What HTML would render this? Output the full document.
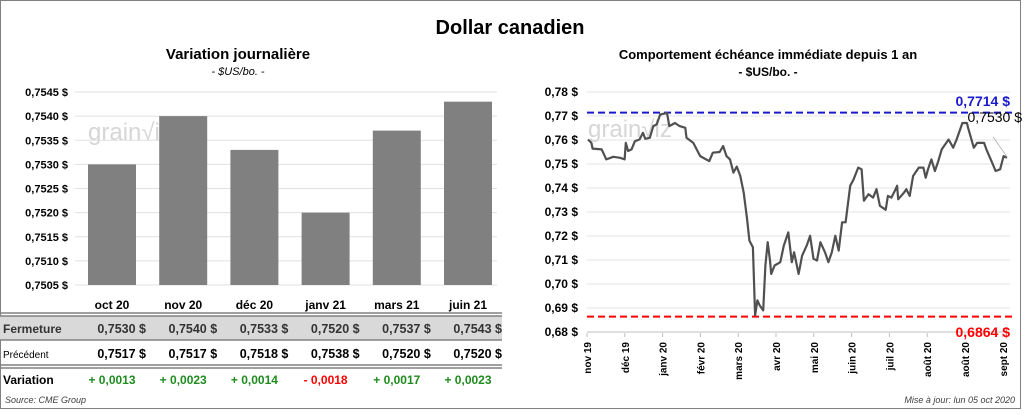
<!DOCTYPE html>
<html><head><meta charset="utf-8">
<style>
body{margin:0;width:1024px;height:410px;background:#fff;font-family:"Liberation Sans",sans-serif;overflow:hidden}
svg text{font-family:"Liberation Sans",sans-serif}
</style></head>
<body>
<svg id="s" width="1024" height="410">
<rect x="0.5" y="0.5" width="1020" height="408" fill="#fff" stroke="#808080"/>
<text x="510" y="34" text-anchor="middle" font-size="20" font-weight="bold">Dollar canadien</text>
<text x="238" y="59" text-anchor="middle" font-size="15" font-weight="bold">Variation  journalière</text>
<text x="238" y="75" text-anchor="middle" font-size="11" font-style="italic">- $US/bo. -</text>
<text x="768" y="59" text-anchor="middle" font-size="13" font-weight="bold">Comportement échéance immédiate depuis 1 an</text>
<text x="768" y="76" text-anchor="middle" font-size="12" font-weight="bold">- $US/bo. -</text>
<g id="left"></g>
<g id="table"></g>
<g id="right"></g>
<text x="5" y="403" font-size="9" font-style="italic" fill="#404040">Source: CME Group</text>
<text x="1015" y="403" text-anchor="end" font-size="9" font-style="italic" fill="#404040">Mise à jour: lun 05 oct 2020</text>
</svg>
<script>
const barCats=["oct 20","nov 20","déc 20","janv 21","mars 21","juin 21"];
const closeVals=[0.7530,0.7540,0.7533,0.7520,0.7537,0.7543];
const prevVals=[0.7517,0.7517,0.7518,0.7538,0.7520,0.7520];
const varVals=[0.0013,0.0023,0.0014,-0.0018,0.0017,0.0023];
const leftTicks=[0.7505,0.7510,0.7515,0.7520,0.7525,0.7530,0.7535,0.7540,0.7545];
const lineDays=[0,3,4,12,16,22,28,32,33,35,38,41,45,48,50,54,57,60,63,69,71,76,80,85,86,92,98,106,109,115,118,121,124,127,130,133,136,139,141,144,146,148,150,153,155,157,159,160,163,168,171,175,178,180,184,187,191,194,197,200,203,207,210,213,216,219,222,225,229,232,236,239,241,245,249,252,255,260,262,265,268,270,271,276,278,281,284,289,293,295,297,300,303,306,309,315,319,322,327,331,332,337,340,346,348,353,356,360,363,366];
const lineVals=[0.7602,0.7588,0.7564,0.7561,0.7519,0.7530,0.7526,0.7519,0.7588,0.7554,0.7561,0.7595,0.7602,0.7630,0.7605,0.7609,0.7658,0.7665,0.7706,0.7713,0.7658,0.7671,0.7658,0.7651,0.7609,0.7588,0.7533,0.7512,0.7547,0.7550,0.7575,0.7533,0.7519,0.7464,0.7489,0.7450,0.7381,0.7270,0.7181,0.7153,0.6870,0.6932,0.6911,0.6890,0.7077,0.7174,0.7098,0.7042,0.7077,0.7091,0.7160,0.7215,0.7091,0.7132,0.7042,0.7118,0.7160,0.7201,0.7105,0.7098,0.7174,0.7132,0.7091,0.7132,0.7201,0.7139,0.7257,0.7257,0.7409,0.7436,0.7485,0.7478,0.7347,0.7374,0.7360,0.7395,0.7326,0.7309,0.7367,0.7360,0.7388,0.7409,0.7353,0.7381,0.7395,0.7367,0.7450,0.7485,0.7485,0.7443,0.7478,0.7519,0.7471,0.7512,0.7561,0.7602,0.7568,0.7602,0.7671,0.7671,0.7651,0.7568,0.7588,0.7588,0.7561,0.7506,0.7471,0.7478,0.7533,0.7526];
const rightTicks=[0.68,0.69,0.70,0.71,0.72,0.73,0.74,0.75,0.76,0.77,0.78];
const monthLabels=["nov 19","déc 19","janv 20","févr 20","mars 20","avr 20","mai 20","juin 20","juil 20","août 20","août 20","sept 20"];
const maxVal=0.7714, minVal=0.6864, lastVal=0.7530;

const NS="http://www.w3.org/2000/svg";
function mk(tag,attrs,parent,txt){const e=document.createElementNS(NS,tag);for(const k in attrs)e.setAttribute(k,attrs[k]);if(txt!==undefined)e.textContent=txt;parent.appendChild(e);return e;}
const fmt=(v,d)=>v.toFixed(d).replace('.',',');

// Left bar chart
const L=document.getElementById('left');
const ly=v=>285-(v-0.7505)/0.0040*193;
const lx=i=>112+i*71.2;
leftTicks.forEach(t=>{
  const g=mk('line',{x1:75,x2:497,y1:ly(t),y2:ly(t),stroke:'#e0e0e0'},L);
  
  
  const tx=mk('text',{x:68,y:ly(t)+4,'text-anchor':'end','font-size':11,'font-weight':'bold'},L,fmt(t,4)+' $');
  
  
});
const wm1=mk('text',{x:88,y:140,'font-size':24,fill:'#d6d6d6'},L,'grain√iz');


closeVals.forEach((v,i)=>{
  const r=mk('rect',{x:lx(i)-24,y:ly(v),width:48,height:285-ly(v),fill:'#808080'},L);
  
  
});

// Table
const T=document.getElementById('table');
mk('rect',{x:0,y:316,width:502,height:24,fill:'#d9d9d9'},T);
[313,316,340,365,368].forEach(y=>mk('line',{x1:0,x2:502,y1:y,y2:y,stroke:'#808080','stroke-width':1.5},T));
barCats.forEach((c,i)=>{
  const h=mk('text',{x:lx(i),y:309,'text-anchor':'middle','font-size':12,'font-weight':'bold'},T,c);
  
  
  const a=mk('text',{x:lx(i)+34,y:333,'text-anchor':'end','font-size':12.5,'font-weight':'bold',fill:'#333','xml:space':'preserve'},T,fmt(closeVals[i],4)+'  $');
  
  
  const b=mk('text',{x:lx(i)+34,y:358,'text-anchor':'end','font-size':12.5,'font-weight':'bold','xml:space':'preserve'},T,fmt(prevVals[i],4)+'  $');
  
  
  const d=varVals[i];
  const dv=mk('text',{x:lx(i),y:384,'text-anchor':'middle','font-size':12,'font-weight':'bold',fill:d<0?'#ff0000':'#1e8c1e'},T,(d<0?'- ':'+ ')+fmt(Math.abs(d),4));
  
  
});
[['Fermeture',333,12,'bold','#333'],['Précédent',358,10,'normal','#000'],['Variation',384,12,'bold','#000']].forEach(r=>{
  const t=mk('text',{x:3,y:r[1],'font-size':r[2],'font-weight':r[3],fill:r[4]},T,r[0]);
  
  
});

// Right line chart
const R=document.getElementById('right');
const ry=v=>92-(v-0.78)/0.10*240;
const rx=d=>588+d/366*419;
rightTicks.forEach(t=>{
  const g=mk('line',{x1:587,x2:1010,y1:ry(t),y2:ry(t),stroke:t===0.68?'#bfbfbf':'#e3e3e3'},R);
  
  
  const tx=mk('text',{x:578,y:ry(t)+4,'text-anchor':'end','font-size':12,'font-weight':'bold'},R,fmt(t,2)+' $');
  
  
});
monthLabels.forEach((m,i)=>{
  const x=587+i*37.8;
  mk('line',{x1:x,x2:x,y1:333,y2:337,stroke:'#bfbfbf'},R);
  const t=mk('text',{x:0,y:0,transform:`translate(${x+4},342) rotate(-90)`,'text-anchor':'end','font-size':10,'font-weight':'bold'},R,m);
  
  
});
const wm2=mk('text',{x:588,y:137,'font-size':24,fill:'#d6d6d6'},R,'grain√iz');


const hi=mk('line',{x1:587,x2:1012,y1:ry(maxVal),y2:ry(maxVal),stroke:'#1a1acc','stroke-width':2,'stroke-dasharray':'7,4'},R);


const lo=mk('line',{x1:587,x2:1012,y1:ry(minVal),y2:ry(minVal),stroke:'#ff0000','stroke-width':2,'stroke-dasharray':'7,4'},R);


const pts=lineVals.map((v,i)=>rx(lineDays[i]).toFixed(1)+','+ry(v).toFixed(1)).join(' ');
const pl=mk('polyline',{points:pts,fill:'none',stroke:'#505050','stroke-width':2.2,'stroke-linejoin':'round'},R);


const lx2=rx(lineDays[lineDays.length-1]);
mk('line',{x1:lx2,y1:ry(lastVal),x2:lx2-14,y2:ry(lastVal)-20,stroke:'#aaa','stroke-width':0.8},R);
const t1=mk('text',{x:1010,y:106,'text-anchor':'end','font-size':14,'font-weight':'bold',fill:'#1a1acc'},R,fmt(maxVal,4)+' $');


const t2=mk('text',{x:1022,y:122,'text-anchor':'end','font-size':14,fill:'#000'},R,fmt(lastVal,4)+' $');


const t3=mk('text',{x:1010,y:337,'text-anchor':'end','font-size':14,'font-weight':'bold',fill:'#ff0000'},R,fmt(minVal,4)+' $');


</script>
</body></html>
